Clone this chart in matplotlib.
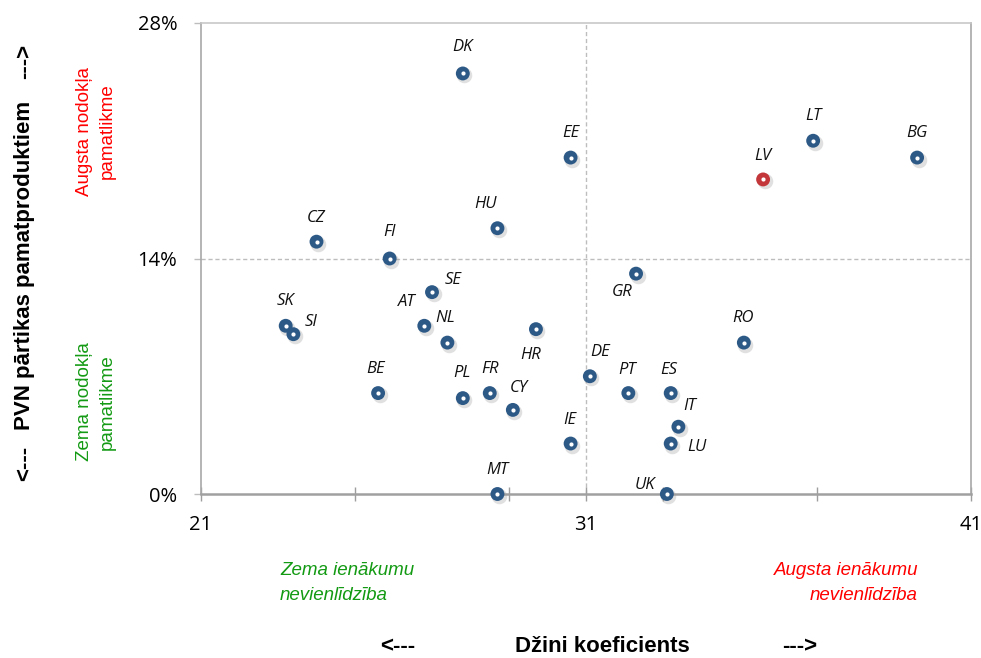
import numpy as np
import matplotlib.pyplot as plt
import matplotlib.transforms as mtransforms

# Gini coefficient vs VAT on basic food products (%), EU countries
countries = ['DK', 'EE', 'LT', 'BG', 'LV', 'HU', 'CZ', 'FI', 'GR', 'SE',
             'AT', 'NL', 'SK', 'SI', 'HR', 'RO', 'BE', 'PL', 'FR', 'CY',
             'DE', 'PT', 'ES', 'IT', 'LU', 'IE', 'MT', 'UK']
gini = [27.8, 30.6, 36.9, 39.6, 35.6, 28.7, 24.0, 25.9, 32.3, 27.0,
        26.8, 27.4, 23.2, 23.4, 29.7, 35.1, 25.6, 27.8, 28.5, 29.1,
        31.1, 32.1, 33.2, 33.4, 33.2, 30.6, 28.7, 33.1]
vat = [25.0, 20.0, 21.0, 20.0, 18.7, 15.8, 15.0, 14.0, 13.1, 12.0,
       10.0, 9.0, 10.0, 9.5, 9.8, 9.0, 6.0, 5.7, 6.0, 5.0,
       7.0, 6.0, 6.0, 4.0, 3.0, 3.0, 0.0, 0.0]
highlight = 'LV'

x_ticks = [21, 31, 41]
y_ticks = [0, 14, 28]

# label offsets in pixels (dx, dy) from the marker
label_off = {'DK': (0, 26), 'EE': (0, 25), 'LT': (0, 25), 'BG': (0, 25),
             'LV': (0, 23), 'HU': (-12, 24), 'CZ': (0, 24), 'FI': (0, 26),
             'SE': (21, 12), 'AT': (-18, 24), 'NL': (-2, 25), 'SK': (0, 25),
             'SI': (18, 12), 'HR': (-5, -26), 'BE': (-2, 24), 'PL': (-1, 25),
             'FR': (0, 24), 'CY': (6, 22), 'GR': (-14, -18), 'RO': (-1, 25),
             'DE': (10, 24), 'PT': (-1, 23), 'ES': (-2, 23), 'IT': (11, 21),
             'LU': (26, -3), 'IE': (-1, 24), 'MT': (0, 24), 'UK': (-22, 9)}

blue = '#2D5986'
red_mark = '#C3373B'
green = '#139A13'
sans = ['Liberation Sans', 'DejaVu Sans']

fig = plt.figure(figsize=(9.81, 6.58), dpi=100)
ax = fig.add_axes([201 / 981, 1 - 494 / 658, 770 / 981, 471 / 658])

ax.set_xlim(21, 41)
ax.set_ylim(0, 28)

gx = np.array(gini)
vy = np.array(vat)
cols = [red_mark if c == highlight else blue for c in countries]

# soft shadow under markers
shadow = mtransforms.offset_copy(ax.transData, fig=fig, x=1.5, y=-2, units='dots')
ax.scatter(gx, vy, s=125, color='#9A9A9A', alpha=0.3, lw=0,
           transform=shadow, zorder=3, clip_on=False)
ax.scatter(gx, vy, s=100, color=cols, lw=0, zorder=4, clip_on=False)
ax.scatter(gx, vy, s=9, color='white', lw=0, zorder=5, clip_on=False)

for c, x, y in zip(countries, gini, vat):
    dx, dy = label_off[c]
    ax.annotate(c, (x, y), xytext=(dx, dy), textcoords='offset pixels',
                ha='center', va='center', fontsize=12, style='italic',
                family='Open Sans', color='#111111', zorder=6)

# quadrant lines
ax.axvline(31, color='#BDBDBD', lw=1, ls=(0, (3, 2)), zorder=1)
ax.axhline(14, color='#BDBDBD', lw=1, ls=(0, (3, 2)), zorder=1)

ax.set_xticks(x_ticks)
ax.set_xticks([25, 29, 33, 37], minor=True)
ax.set_yticks(y_ticks)
ax.set_xticklabels([str(t) for t in x_ticks])
ax.set_yticklabels(['%d%%' % t for t in y_ticks])
for lab in ax.get_xticklabels() + ax.get_yticklabels():
    lab.set_family('Open Sans')
    lab.set_fontsize(14.5)
ax.tick_params(axis='x', which='both', direction='inout', length=10,
               width=1, color='#9E9E9E', pad=10)
ax.tick_params(axis='y', direction='out', length=5, width=1,
               color='#BDBDBD', pad=12)

for side in ['left', 'right']:
    ax.spines[side].set_color('#A8A8A8')
    ax.spines[side].set_linewidth(1.2)
ax.spines['top'].set_color('#C8C8C8')
ax.spines['top'].set_linewidth(1.2)
ax.spines['bottom'].set_color('#A0A0A0')
ax.spines['bottom'].set_linewidth(1.8)

# axis titles with arrows
fig.text(25 / 981, 1 - 265 / 658, 'PVN pārtikas pamatproduktiem', rotation=90,
         ha='center', va='center', fontsize=16, weight='bold', family=sans)
fig.text(25 / 981, 1 - 463 / 658, '<---', rotation=90,
         ha='center', va='center', fontsize=16, weight='bold', family=sans)
fig.text(25 / 981, 1 - 61 / 658, '--->', rotation=90,
         ha='center', va='center', fontsize=16, weight='bold', family=sans)

fig.text(602 / 981, 1 - 647 / 658, 'Džini koeficients',
         ha='center', va='center', fontsize=16, weight='bold', family=sans)
fig.text(398 / 981, 1 - 647 / 658, '<---',
         ha='center', va='center', fontsize=16, weight='bold', family=sans)
fig.text(800 / 981, 1 - 647 / 658, '--->',
         ha='center', va='center', fontsize=16, weight='bold', family=sans)

# quadrant descriptions
fig.text(96 / 981, 1 - 131 / 658, 'Augsta nodokļa\npamatlikme', rotation=90,
         ha='center', va='center', multialignment='center', fontsize=13.5,
         color='red', family=sans, linespacing=1.5)
fig.text(96 / 981, 1 - 402 / 658, 'Zema nodokļa\npamatlikme', rotation=90,
         ha='center', va='center', multialignment='center', fontsize=13.5,
         color=green, family=sans, linespacing=1.5)
fig.text(280 / 981, 1 - 583 / 658, 'Zema ienākumu\nnevienlīdzība',
         ha='left', va='center', fontsize=13.5, style='italic',
         color=green, family=sans, linespacing=1.6)
fig.text(918 / 981, 1 - 583 / 658, 'Augsta ienākumu\nnevienlīdzība',
         ha='right', va='center', multialignment='right', fontsize=13.5,
         style='italic', color='red', family=sans, linespacing=1.6)

plt.savefig('out.png', dpi=100)
